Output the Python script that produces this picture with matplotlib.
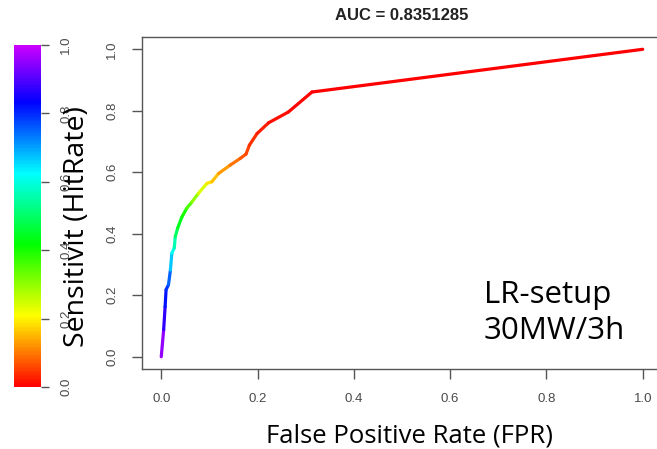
import colorsys
import numpy as np
import matplotlib
matplotlib.use("Agg")
import matplotlib.pyplot as plt
from matplotlib.collections import LineCollection
from matplotlib.colors import ListedColormap, Normalize
from matplotlib.cm import ScalarMappable

# ROC curve
fpr = [0.0, 0.005, 0.008, 0.010, 0.015, 0.019, 0.022, 0.027, 0.029, 0.034,
       0.043, 0.053, 0.064, 0.077, 0.095, 0.105, 0.119, 0.143, 0.164, 0.176,
       0.183, 0.199, 0.223, 0.264, 0.313, 1.0]
tpr = [0.0, 0.088, 0.163, 0.218, 0.234, 0.282, 0.337, 0.354, 0.390, 0.418,
       0.455, 0.483, 0.504, 0.531, 0.564, 0.569, 0.596, 0.623, 0.645, 0.659,
       0.688, 0.726, 0.761, 0.796, 0.861, 1.0]
# cutoff value at each point (drives the colour)
cutoff = [1.0, 0.90, 0.84, 0.80, 0.78, 0.72, 0.62, 0.60, 0.52, 0.47,
          0.42, 0.38, 0.33, 0.27, 0.20, 0.18, 0.14, 0.11, 0.08, 0.065,
          0.05, 0.03, 0.018, 0.01, 0.003, 0.0]

ticks = [0.0, 0.2, 0.4, 0.6, 0.8, 1.0]
tick_labels = ["0.0", "0.2", "0.4", "0.6", "0.8", "1.0"]

auc_title = "AUC = 0.8351285"
xlabel = "False Positive Rate (FPR)"
ylabel = "Sensitivit (HitRate)"
note = "LR-setup\n30MW/3h"

# rainbow like R's rainbow(): red -> purple
cmap = ListedColormap([colorsys.hsv_to_rgb(h, 1, 1) for h in np.linspace(0, 0.8, 256)])
norm = Normalize(0, 1)

W, H = 657, 449
fig = plt.figure(figsize=(W / 100, H / 100), dpi=100)

# main plot
ax = fig.add_axes([142 / W, 1 - 369 / H, 520 / W, 332 / H])
pts = np.column_stack([fpr, tpr])
segs = np.stack([pts[:-1], pts[1:]], axis=1)
seg_c = (np.array(cutoff[:-1]) + np.array(cutoff[1:])) / 2
lc = LineCollection(segs, cmap=cmap, norm=norm, linewidths=2.3, capstyle="round")
lc.set_array(seg_c)
ax.add_collection(lc)
ax.set_xlim(-0.04, 1.04)
ax.set_ylim(-0.04, 1.04)
ax.set_xticks(ticks)
ax.set_xticklabels(tick_labels)
ax.set_yticks(ticks)
ax.set_yticklabels(tick_labels, rotation=90, va="center")
for sp in ax.spines.values():
    sp.set_color("#555555")
    sp.set_linewidth(1.0)
ax.tick_params(colors="#555555", labelcolor="#4a4a4a", labelsize=9.5,
               length=7, width=1.0, pad=10, labelfontfamily="Liberation Sans")
ax.set_title(auc_title, fontsize=12, fontweight="bold", family="Liberation Sans",
             color="#222222", pad=12)

# colour bar on the left
cax = fig.add_axes([14 / W, 1 - 387 / H, 27 / W, 342 / H])
cb = fig.colorbar(ScalarMappable(norm=norm, cmap=cmap), cax=cax)
cb.outline.set_visible(False)
cb.set_ticks(ticks)
cb.set_ticklabels(tick_labels)
cax.tick_params(colors="#555555", labelcolor="#4a4a4a", labelsize=9.5,
                length=6, width=1.0, pad=8, labelfontfamily="Liberation Sans")
for t in cax.get_yticklabels():
    t.set_rotation(90)
    t.set_va("center")

# overlaid labels
fig.text(77 / W, 1 - 227 / H, ylabel, rotation=90, ha="center", va="center",
         fontsize=20.5, family="Open Sans", color="black")
fig.text(410 / W, 1 - 436 / H, xlabel, ha="center", va="center",
         fontsize=18.5, family="Open Sans", color="black")
fig.text(484 / W, 1 - 313 / H, note, ha="left", va="center",
         fontsize=22.5, family="Open Sans", color="black", linespacing=1.25)

fig.savefig("out.png", dpi=100)
